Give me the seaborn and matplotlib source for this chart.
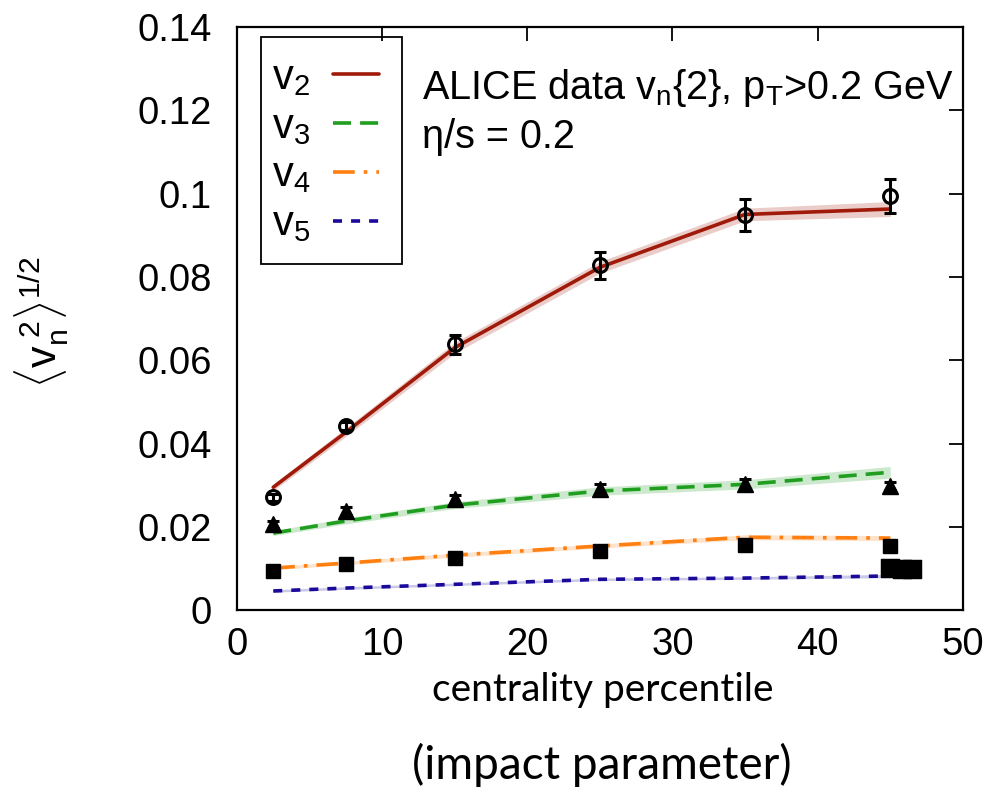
import numpy as np
import pandas as pd
import matplotlib
matplotlib.use("Agg")
import matplotlib.pyplot as plt
import seaborn as sns
from matplotlib.lines import Line2D
from matplotlib.patches import Rectangle

# ---------------- data ----------------
cent = [2.5, 7.5, 15, 25, 35, 45]

# theory curves (eta/s = 0.2) and band half widths
v2_th = [0.0295, 0.0427, 0.0630, 0.0823, 0.0950, 0.0963]
v3_th = [0.0185, 0.0214, 0.0252, 0.0286, 0.0302, 0.0331]
v4_th = [0.0101, 0.0113, 0.0132, 0.0154, 0.0175, 0.0173]
v5_th = [0.0046, 0.0053, 0.0062, 0.0074, 0.0077, 0.0082]
v2_band = [0.0008, 0.0010, 0.0013, 0.0014, 0.0015, 0.0018]
v3_band = [0.0006, 0.0007, 0.0008, 0.0010, 0.0011, 0.0014]
v4_band = [0.0004, 0.0004, 0.0005, 0.0005, 0.0006, 0.0006]
v5_band = [0.0003, 0.0003, 0.0003, 0.0003, 0.0003, 0.0004]

# ALICE data v_n{2}
v2_data = [0.0271, 0.0442, 0.0638, 0.0828, 0.0948, 0.0994]
v2_err = [0.0008, 0.0010, 0.0022, 0.0033, 0.0038, 0.0040]
v3_data = [0.0206, 0.0238, 0.0266, 0.0290, 0.0302, 0.0298]
v3_err = [0.0008, 0.0009, 0.0011, 0.0012, 0.0012, 0.0010]
v4_data = [0.0094, 0.0110, 0.0125, 0.0142, 0.0156, 0.0154]
v4_err = [0.0006, 0.0006, 0.0008, 0.0009, 0.0008, 0.0008]
v5_cent = [45.0, 45.8, 46.5]
v5_data = [0.0100, 0.0099, 0.0099]

labels = ["v$_2$", "v$_3$", "v$_4$", "v$_5$"]
colors = ["#a01a0a", "#1f9e1f", "#ff7f10", "#1a0a9a"]
styles = ["-", (0, (5, 2.5)), (0, (6, 2.5, 1, 2.5)), (0, (2.5, 2.5))]

# ---------------- figure ----------------
sns.set_theme(style="white")
plt.rcParams["font.family"] = ["Liberation Sans", "DejaVu Sans"]
plt.rcParams["mathtext.fontset"] = "custom"
plt.rcParams["mathtext.rm"] = "Liberation Sans"
plt.rcParams["mathtext.it"] = "Liberation Sans"
plt.rcParams["mathtext.sf"] = "Liberation Sans"
for k in ["text.color", "axes.labelcolor", "xtick.color", "ytick.color"]:
    plt.rcParams[k] = "black"

fig = plt.figure(figsize=(10.04, 8.06), dpi=100)
ax = fig.add_axes([0.236, 0.243, 0.723, 0.7235])

th = [v2_th, v3_th, v4_th, v5_th]
bands = [v2_band, v3_band, v4_band, v5_band]
for lab, y, b, c, ls in zip(labels, th, bands, colors, styles):
    y = np.array(y)
    b = np.array(b)
    ax.fill_between(cent, y - b, y + b, color=c, alpha=0.22, lw=0, zorder=1)
    df = pd.DataFrame({"x": cent, "y": y})
    sns.lineplot(data=df, x="x", y="y", ax=ax, color=c, lw=2.6,
                 zorder=2, legend=False)
    ax.lines[-1].set_linestyle(ls)

ekw = dict(ecolor="black", elinewidth=2.2, capsize=4, capthick=2.2, ls="none", zorder=4)
ax.errorbar(cent, v2_data, yerr=v2_err, marker="o", ms=10, mfc="none",
            mec="black", mew=2.2, **ekw)
ax.errorbar(cent, v3_data, yerr=v3_err, marker="^", ms=11, mfc="black",
            mec="black", **ekw)
ax.errorbar(cent, v4_data, yerr=v4_err, marker="s", ms=10, mfc="black",
            mec="black", **ekw)
sns.scatterplot(x=v5_cent, y=v5_data, ax=ax, marker="s", s=170, color="black",
                edgecolor="black", zorder=5, legend=False)

ax.set_xlim(0, 50)
ax.set_ylim(0, 0.14)
ax.set_xticks([0, 10, 20, 30, 40, 50])
ax.set_yticks([0, 0.02, 0.04, 0.06, 0.08, 0.1, 0.12, 0.14])
ax.set_yticklabels(["0", "0.02", "0.04", "0.06", "0.08", "0.1", "0.12", "0.14"])
ax.tick_params(direction="in", length=10, width=1.3, top=True, right=True,
               labelsize=27.5, colors="black")
ax.tick_params(axis="y", pad=18)
ax.tick_params(axis="x", pad=12)
for sp in ax.spines.values():
    sp.set_visible(True)
    sp.set_color("black")
    sp.set_linewidth(1.6)
ax.set_xlabel("")
ax.set_ylabel("")

# legend (text first, line sample on the right), frame drawn separately
handles = [Line2D([0], [0], color=c, lw=2.6, linestyle=ls) for c, ls in zip(colors, styles)]
leg = ax.legend(handles, labels, loc="upper left", bbox_to_anchor=(272 / 1004, 1 - 58 / 806),
                bbox_transform=fig.transFigure, markerfirst=False, fontsize=30,
                handlelength=1.1, handletextpad=0.55, labelspacing=0.21,
                borderpad=0, borderaxespad=0, frameon=False)
for t in leg.get_texts():
    t.set_color("black")
fig.patches.append(Rectangle((261 / 1004, 1 - 264 / 806), 141 / 1004, 227 / 806,
                             transform=fig.transFigure, fill=False, ec="black", lw=1.3,
                             zorder=10))

ax.text(0.255, 0.8765, r"ALICE data v$_\mathrm{n}${2}, p$_\mathrm{T}$>0.2 GeV",
        transform=ax.transAxes, fontsize=28.5, ha="left", va="baseline", color="black")
ax.text(0.255, 0.7925, "η/s = 0.2", transform=ax.transAxes, fontsize=28.5,
        ha="left", va="baseline", color="black")

fig.text(0.042, 0.60, r"$\langle\mathrm{v}_\mathrm{n}^{\ 2}\rangle^{1/2}$",
         rotation=90, fontsize=31, ha="center", va="center", color="black")
fig.text(0.600, 0.144, "centrality percentile", fontsize=28, family=["Lato", "DejaVu Sans"],
         ha="center", va="center", color="black")
fig.text(0.599, 0.051, "(impact parameter)", fontsize=33, family=["Lato", "DejaVu Sans"],
         ha="center", va="center", color="black")

fig.savefig("out.png", dpi=100)
